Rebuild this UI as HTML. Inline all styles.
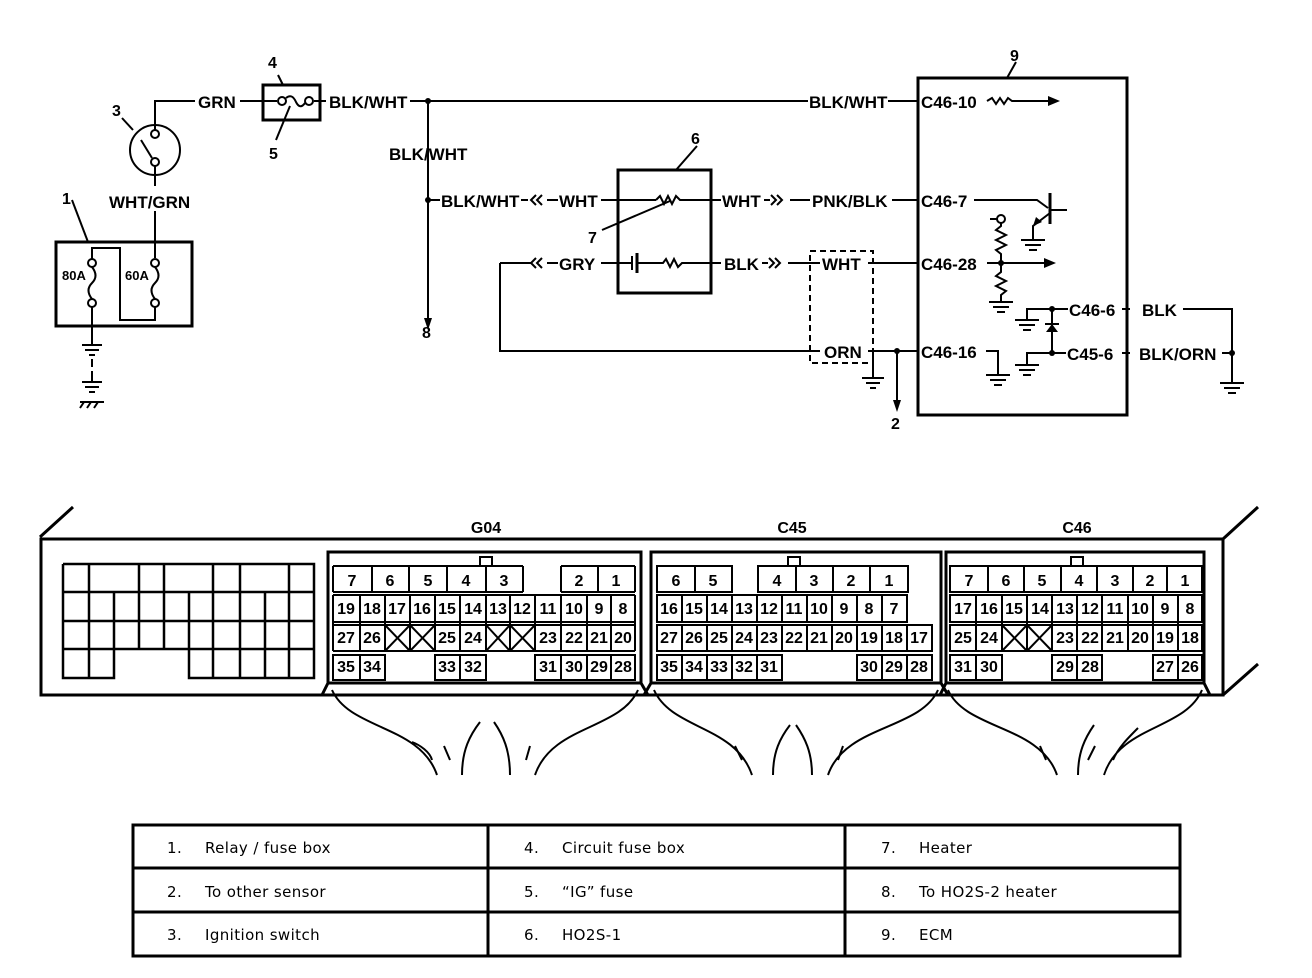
<!DOCTYPE html>
<html><head><meta charset="utf-8"><style>
html,body{margin:0;padding:0;background:#fff}
svg{display:block}
.l{font-family:"Liberation Sans",Arial,sans-serif;font-weight:bold;font-size:17px;fill:#000}
.n{font-family:"Liberation Sans",Arial,sans-serif;font-weight:bold;font-size:16px;fill:#000}
.c{font-family:"Liberation Sans",Arial,sans-serif;font-weight:bold;font-size:16px;fill:#000;text-anchor:middle}
.t{font-family:"DejaVu Sans","Liberation Sans",sans-serif;font-size:15px;letter-spacing:0.4px;fill:#000}
</style></head><body>
<svg width="1312" height="978" viewBox="0 0 1312 978" xmlns="http://www.w3.org/2000/svg">
<g fill="none" stroke="#000" stroke-width="2">
<circle cx="155" cy="150" r="25"/>
<circle cx="155" cy="134" r="4"/><circle cx="155" cy="162" r="4"/>
<path d="M141 140 L152 158"/>
<path d="M155 130 V101 H195"/>
<path d="M155 166 V186"/>
<path d="M122 118 L133 130"/>
<rect x="263" y="85" width="57" height="35" stroke-width="3"/>
<path d="M240 101 H277 M314 101 H326"/>
<circle cx="282" cy="101" r="4"/><circle cx="309" cy="101" r="4"/>
<path d="M286 98 Q292 93 296 102 Q300 110 305 103"/>
<path d="M278 75 L283 85"/>
<path d="M276 140 L290 106"/>
<rect x="56" y="242" width="136" height="84" stroke-width="3"/>
<path d="M72 200 L88 242"/>
<path d="M155 211 V258"/>
<circle cx="155" cy="263" r="4"/><circle cx="155" cy="303" r="4"/>
<path d="M155 267 Q162 276 155 283 Q148 290 155 299"/>
<circle cx="92" cy="263" r="4"/><circle cx="92" cy="303" r="4"/>
<path d="M92 267 Q99 276 92 283 Q85 290 92 299"/>
<path d="M92 259 V248 H120 V320 H155 V307"/>
<path d="M92 307 V345"/>
<path d="M82 345 H102 M85 350 H99 M89 355 H95"/>
<path d="M92 359 V367 M92 371 V378" />
<path d="M82 382 H102 M85 387 H99 M89 392 H95"/>
<path d="M92 378 V382"/>
<path d="M80 402 H104 M84 402 L80 408 M91 402 L87 408 M98 402 L94 408"/>
<path d="M410 101 H808 M888 101 H918"/>
<path d="M987 101 L992 98 L996 104 L1000 98 L1004 104 L1008 98 L1012 101 H1050"/>
<path d="M428 101 V320"/>
<path d="M428 200 H440"/>
<path d="M521 200 H528 M547 200 H558 M601 200 H656"/>
<path d="M536 195 L531 200 L536 205 M542 195 L537 200 L542 205"/>
<rect x="618" y="170" width="93" height="123" stroke-width="3"/>
<path d="M697 146 L676 170"/>
<path d="M656 200 L660 196 L664 204 L668 196 L672 204 L676 196 L680 200 H721"/>
<path d="M602 230 L670 201"/>
<path d="M764 200 H770 M790 200 H810"/>
<path d="M771 195 L776 200 L771 205 M777 195 L782 200 L777 205"/>
<path d="M892 200 H918"/>
<path d="M500 263 V351 H820"/>
<path d="M500 263 H532 M547 263 H558 M601 263 H632"/>
<path d="M536 258 L531 263 L536 268 M542 258 L537 263 L542 268"/>
<path d="M632 256 V270" stroke-width="2"/>
<path d="M637 253 V273" stroke-width="3"/>
<path d="M637 263 H663 L666 259 L670 267 L674 259 L678 267 L682 263 H721"/>
<path d="M762 263 H768 M788 263 H820"/>
<path d="M769 258 L774 263 L769 268 M775 258 L780 263 L775 268"/>
<path d="M868 263 H918 M868 351 H918"/>
<rect x="810" y="251" width="63" height="112" stroke-dasharray="6,4"/>
<path d="M873 351 V378 M862 378 H884 M866 383 H880 M870 388 H876"/>
<path d="M897 351 V402"/>
<rect x="918" y="78" width="209" height="337" stroke-width="3"/>
<path d="M1016 62 L1007 78"/>
<path d="M974 200 H1037 L1048 208"/>
<path d="M1050 193 V224" stroke-width="3"/>
<path d="M1050 210 H1067"/>
<path d="M1050 213 L1033 226 V240"/>
<path d="M1021 240 H1045 M1025 245 H1041 M1029 250 H1037"/>
<circle cx="1001" cy="219" r="4"/>
<path d="M990 219 H997"/>
<path d="M1001 223 V226 L996 230 L1006 235 L996 240 L1006 245 L996 250 L1001 254 V272 L996 276 L1006 281 L996 286 L1006 291 L1001 295 V302"/>
<path d="M989 302 H1013 M993 307 H1009 M997 312 H1005"/>
<path d="M987 263 H1048"/>
<path d="M986 351 H998 V375 M986 375 H1010 M990 380 H1006 M994 385 H1002"/>
<path d="M1052 309 H1068 M1052 309 H1027 V320 M1015 320 H1039 M1019 325 H1035 M1023 330 H1031"/>
<path d="M1052 309 V353 H1066 M1052 353 H1027 V365 M1015 365 H1039 M1019 370 H1035 M1023 375 H1031"/>
<path d="M1045 324 H1059"/>
<path d="M1122 309 H1130 M1122 353 H1130"/>
<path d="M1183 309 H1232 V383 M1222 353 H1232"/>
<path d="M1220 383 H1244 M1224 388 H1240 M1228 393 H1236"/>
</g>
<g fill="#000">
<circle cx="428" cy="101" r="3"/><circle cx="428" cy="200" r="3"/>
<circle cx="897" cy="351" r="3"/><circle cx="1001" cy="263" r="3"/>
<circle cx="1052" cy="309" r="3"/><circle cx="1052" cy="353" r="3"/><circle cx="1232" cy="353" r="3"/>
<path d="M424 318 L428 330 L432 318Z"/>
<path d="M893 400 L897 412 L901 400Z"/>
<path d="M1048 96 L1060 101 L1048 106Z"/>
<path d="M1044 258 L1056 263 L1044 268Z"/>
<path d="M1046 332 L1052 324 L1058 332Z"/>
<path d="M1033 226 L1036 217 L1042 222Z"/>
</g>
<text class="n" x="112" y="116">3</text>
<text class="l" x="198" y="108">GRN</text>
<text class="n" x="268" y="68">4</text>
<text class="n" x="269" y="159">5</text>
<text class="l" x="329" y="108">BLK/WHT</text>
<text class="l" x="109" y="208">WHT/GRN</text>
<text class="n" x="62" y="204">1</text>
<text style="font-family:'Liberation Sans',sans-serif;font-weight:bold;font-size:13px" x="62" y="280">80A</text>
<text style="font-family:'Liberation Sans',sans-serif;font-weight:bold;font-size:13px" x="125" y="280">60A</text>
<text class="l" x="389" y="160">BLK/WHT</text>
<text class="l" x="441" y="207">BLK/WHT</text>
<text class="l" x="559" y="207">WHT</text>
<text class="n" x="691" y="144">6</text>
<text class="n" x="588" y="243">7</text>
<text class="l" x="722" y="207">WHT</text>
<text class="l" x="812" y="207">PNK/BLK</text>
<text class="l" x="809" y="108">BLK/WHT</text>
<text class="l" x="559" y="270">GRY</text>
<text class="l" x="724" y="270">BLK</text>
<text class="l" x="822" y="270">WHT</text>
<text class="l" x="824" y="358">ORN</text>
<text class="n" x="422" y="338">8</text>
<text class="n" x="891" y="429">2</text>
<text class="n" x="1010" y="61">9</text>
<text class="l" x="921" y="108">C46-10</text>
<text class="l" x="921" y="207">C46-7</text>
<text class="l" x="921" y="270">C46-28</text>
<text class="l" x="921" y="358">C46-16</text>
<text class="l" x="1069" y="316">C46-6</text>
<text class="l" x="1142" y="316">BLK</text>
<text class="l" x="1067" y="360">C45-6</text>
<text class="l" x="1139" y="360">BLK/ORN</text>

<g fill="none" stroke="#000" stroke-width="3">
<path d="M41 539 H1223 V695 H41 Z"/>
<path d="M40 537 L73 507 M1223 539 L1258 507 M1223 695 L1258 664"/>
<path d="M63 564 H314 V678 H189 V592 M63 564 V678 H114 V592 M63 592 H314 M63 621 H314 M63 649 H314 M89 564 V678 M139 564 V649 M164 564 V649 M213 564 V678 M240 564 V678 M289 564 V678 M265 592 V678" stroke-width="2.5"/>
</g>
<g fill="#fff" stroke="#000" stroke-width="3">
<rect x="328" y="552" width="313" height="131"/>
<rect x="651" y="552" width="290" height="131"/>
<rect x="946" y="552" width="258" height="131"/>
</g>
<g fill="none" stroke="#000" stroke-width="3">
<path d="M328 683 L322 695 M641 683 L648 695 M651 683 L644 695 M941 683 L948 695 M946 683 L940 695 M1204 683 L1210 695"/>
</g>
<g fill="#fff" stroke="#000" stroke-width="2">
<rect x="480" y="557" width="12" height="9"/>
<rect x="788" y="557" width="12" height="9"/>
<rect x="1071" y="557" width="12" height="9"/>
</g>
<g fill="none" stroke="#000" stroke-width="2">
<path d="M333 566 H523 M561 566 H635 M333 592 H523 M561 592 H635 M333 566 V592 M372 566 V592 M409 566 V592 M447 566 V592 M486 566 V592 M523 566 V592 M561 566 V592 M598 566 V592 M635 566 V592"/>
<path d="M333 595 H635 M333 622 H635 M333 625 H635 M333 651 H635"/>
<path d="M333 595 V651 M360 595 V651 M385 595 V651 M410 595 V651 M435 595 V651 M460 595 V651 M486 595 V651 M510 595 V651 M535 595 V651 M561 595 V651 M587 595 V651 M611 595 V651 M635 595 V651"/>
<path d="M385 625 L410 651 M410 625 L385 651 M410 625 L435 651 M435 625 L410 651 M486 625 L510 651 M510 625 L486 651 M510 625 L535 651 M535 625 L510 651"/>
<path d="M333 655 H385 V680 H333 Z M360 655 V680 M435 655 H486 V680 H435 Z M460 655 V680 M535 655 H635 V680 H535 Z M561 655 V680 M587 655 V680 M611 655 V680"/>
<path d="M657 566 H732 V592 H657 Z M695 566 V592 M758 566 H908 V592 H758 Z M796 566 V592 M833 566 V592 M870 566 V592"/>
<path d="M657 595 H907 V622 H657 Z M682 595 V622 M707 595 V622 M732 595 V622 M757 595 V622 M782 595 V622 M807 595 V622 M832 595 V622 M857 595 V622 M882 595 V622"/>
<path d="M657 625 H932 V651 H657 Z M682 625 V651 M707 625 V651 M732 625 V651 M757 625 V651 M782 625 V651 M807 625 V651 M832 625 V651 M857 625 V651 M882 625 V651 M907 625 V651"/>
<path d="M657 655 H782 V680 H657 Z M682 655 V680 M707 655 V680 M732 655 V680 M757 655 V680 M857 655 H932 V680 H857 Z M882 655 V680 M907 655 V680"/>
<path d="M950 566 H1202 V592 H950 Z M988 566 V592 M1024 566 V592 M1061 566 V592 M1097 566 V592 M1133 566 V592 M1167 566 V592"/>
<path d="M950 595 H1202 V622 H950 Z M950 625 H1202 V651 H950 Z"/>
<path d="M976 595 V651 M1002 595 V651 M1027 595 V651 M1052 595 V651 M1077 595 V651 M1102 595 V651 M1128 595 V651 M1153 595 V651 M1178 595 V651"/>
<path d="M1002 625 L1027 651 M1027 625 L1002 651 M1027 625 L1052 651 M1052 625 L1027 651"/>
<path d="M950 655 H1002 V680 H950 Z M976 655 V680 M1052 655 H1102 V680 H1052 Z M1077 655 V680 M1153 655 H1202 V680 H1153 Z M1178 655 V680"/>
<path d="M332 690 C350 730 420 725 437 775 M638 690 C620 730 552 725 535 775 M462 775 C462 750 470 735 480 722 M510 775 C510 750 503 735 494 722 M412 742 C420 745 430 752 432 760" />
<path d="M654 690 C672 730 735 725 752 775 M938 690 C920 730 845 725 828 775 M773 775 C773 752 780 738 790 725 M812 775 C812 752 805 738 796 725"/>
<path d="M948 690 C966 730 1040 725 1057 775 M1202 690 C1185 730 1120 725 1104 775 M1078 775 C1078 752 1085 738 1094 725 M1113 760 C1118 748 1128 738 1138 728"/>
<path d="M444 746 L450 760 M530 746 L526 760 M735 746 L742 760 M843 746 L838 760 M1040 746 L1046 760 M1088 760 L1095 746"/>
</g>
<text class="c" x="486" y="533">G04</text>
<text class="c" x="792" y="533">C45</text>
<text class="c" x="1077" y="533">C46</text>
<g class="c">
<text x="352" y="586">7</text><text x="390" y="586">6</text><text x="428" y="586">5</text><text x="466" y="586">4</text><text x="504" y="586">3</text><text x="579" y="586">2</text><text x="616" y="586">1</text>
<text x="346" y="614">19</text><text x="372" y="614">18</text><text x="397" y="614">17</text><text x="422" y="614">16</text><text x="447" y="614">15</text><text x="473" y="614">14</text><text x="498" y="614">13</text><text x="522" y="614">12</text><text x="548" y="614">11</text><text x="574" y="614">10</text><text x="599" y="614">9</text><text x="623" y="614">8</text>
<text x="346" y="643">27</text><text x="372" y="643">26</text><text x="447" y="643">25</text><text x="473" y="643">24</text><text x="548" y="643">23</text><text x="574" y="643">22</text><text x="599" y="643">21</text><text x="623" y="643">20</text>
<text x="346" y="672">35</text><text x="372" y="672">34</text><text x="447" y="672">33</text><text x="473" y="672">32</text><text x="548" y="672">31</text><text x="574" y="672">30</text><text x="599" y="672">29</text><text x="623" y="672">28</text>
<text x="676" y="586">6</text><text x="713" y="586">5</text><text x="777" y="586">4</text><text x="814" y="586">3</text><text x="851" y="586">2</text><text x="889" y="586">1</text>
<text x="669" y="614">16</text><text x="694" y="614">15</text><text x="719" y="614">14</text><text x="744" y="614">13</text><text x="769" y="614">12</text><text x="794" y="614">11</text><text x="819" y="614">10</text><text x="844" y="614">9</text><text x="869" y="614">8</text><text x="894" y="614">7</text>
<text x="669" y="643">27</text><text x="694" y="643">26</text><text x="719" y="643">25</text><text x="744" y="643">24</text><text x="769" y="643">23</text><text x="794" y="643">22</text><text x="819" y="643">21</text><text x="844" y="643">20</text><text x="869" y="643">19</text><text x="894" y="643">18</text><text x="919" y="643">17</text>
<text x="669" y="672">35</text><text x="694" y="672">34</text><text x="719" y="672">33</text><text x="744" y="672">32</text><text x="769" y="672">31</text><text x="869" y="672">30</text><text x="894" y="672">29</text><text x="919" y="672">28</text>
<text x="969" y="586">7</text><text x="1006" y="586">6</text><text x="1042" y="586">5</text><text x="1079" y="586">4</text><text x="1115" y="586">3</text><text x="1150" y="586">2</text><text x="1185" y="586">1</text>
<text x="963" y="614">17</text><text x="989" y="614">16</text><text x="1014" y="614">15</text><text x="1040" y="614">14</text><text x="1065" y="614">13</text><text x="1090" y="614">12</text><text x="1115" y="614">11</text><text x="1140" y="614">10</text><text x="1165" y="614">9</text><text x="1190" y="614">8</text>
<text x="963" y="643">25</text><text x="989" y="643">24</text><text x="1065" y="643">23</text><text x="1090" y="643">22</text><text x="1115" y="643">21</text><text x="1140" y="643">20</text><text x="1165" y="643">19</text><text x="1190" y="643">18</text>
<text x="963" y="672">31</text><text x="989" y="672">30</text><text x="1065" y="672">29</text><text x="1090" y="672">28</text><text x="1165" y="672">27</text><text x="1190" y="672">26</text>
</g>
<g fill="none" stroke="#000" stroke-width="3">
<rect x="133" y="825" width="1047" height="131"/>
<path d="M133 868 H1180 M133 912 H1180 M488 825 V956 M845 825 V956"/>
</g>
<g class="t">
<text x="167" y="853">1.</text><text x="205" y="853">Relay / fuse box</text>
<text x="167" y="897">2.</text><text x="205" y="897">To other sensor</text>
<text x="167" y="940">3.</text><text x="205" y="940">Ignition switch</text>
<text x="524" y="853">4.</text><text x="562" y="853">Circuit fuse box</text>
<text x="524" y="897">5.</text><text x="562" y="897">“IG” fuse</text>
<text x="524" y="940">6.</text><text x="562" y="940">HO2S-1</text>
<text x="881" y="853">7.</text><text x="919" y="853">Heater</text>
<text x="881" y="897">8.</text><text x="919" y="897">To HO2S-2 heater</text>
<text x="881" y="940">9.</text><text x="919" y="940">ECM</text>
</g>
</svg>
</body></html>
